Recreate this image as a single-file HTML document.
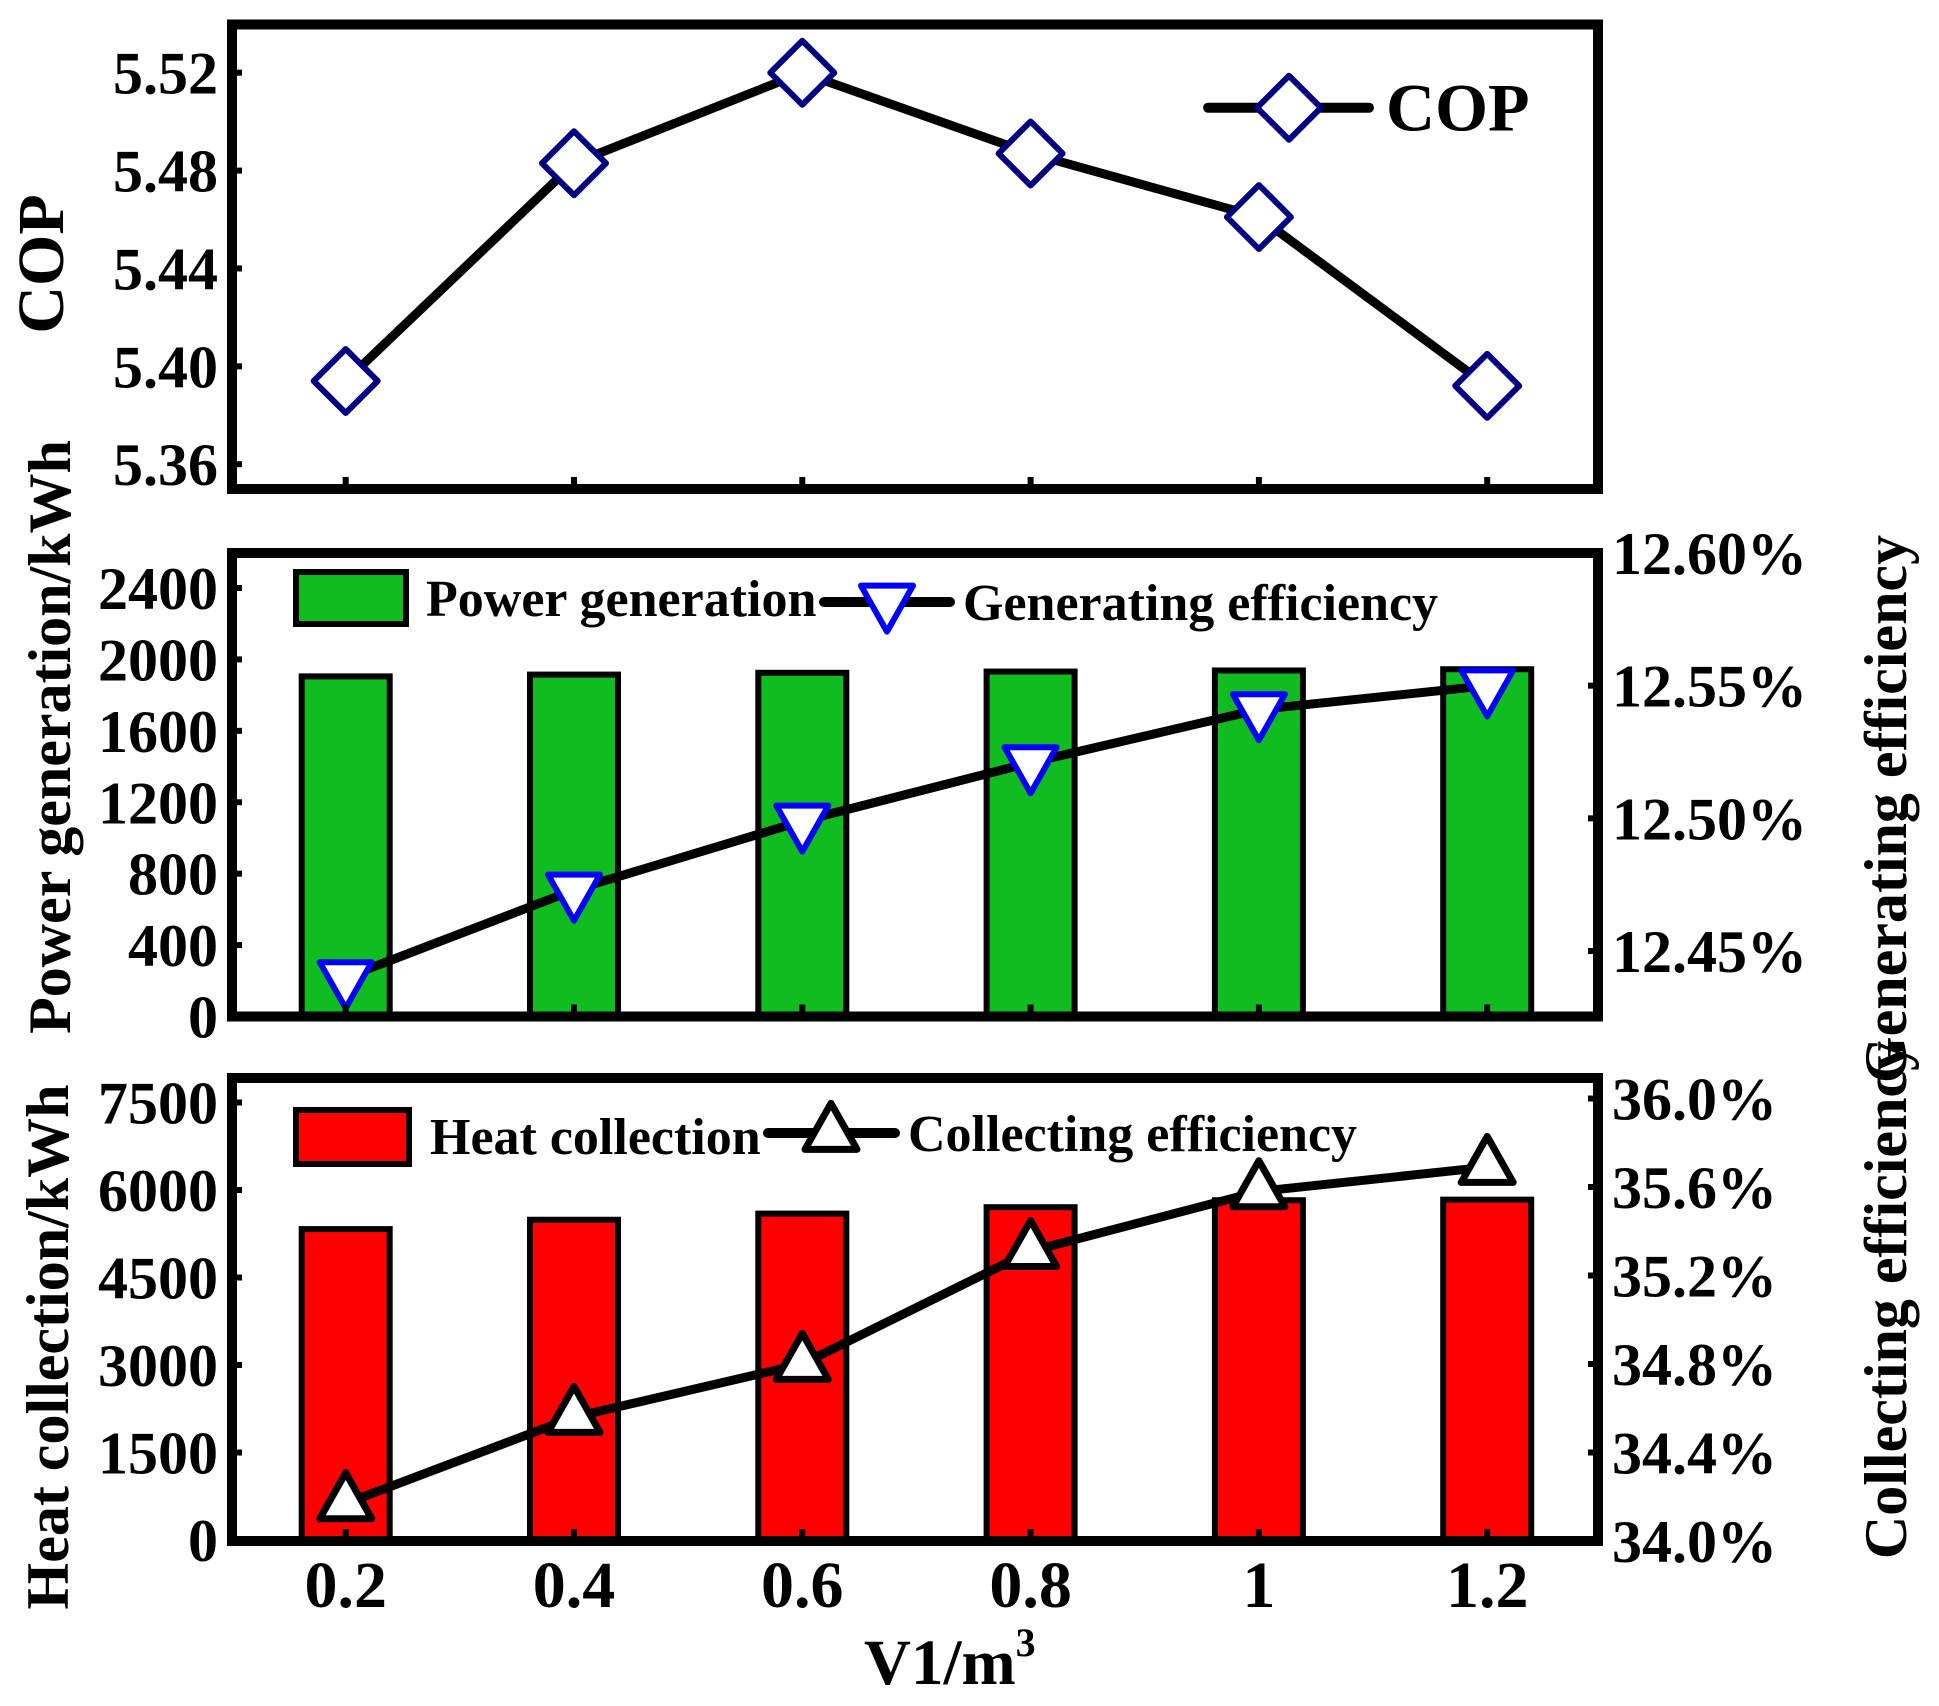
<!DOCTYPE html>
<html><head><meta charset="utf-8"><style>
html,body{margin:0;padding:0;background:#fff;}
svg{display:block;}
text{font-family:"Liberation Serif","Times New Roman",serif;font-weight:bold;fill:#000;}
</style></head>
<body>
<svg id="chart" width="1939" height="1706" viewBox="0 0 1939 1706" xmlns="http://www.w3.org/2000/svg"></svg>
<script>
const categories = ["0.2","0.4","0.6","0.8","1","1.2"];
const copValues = [5.394, 5.483, 5.520, 5.487, 5.461, 5.392];
const powerValues = [1905, 1915, 1925, 1932, 1938, 1945];
const genEffValues = [12.440, 12.473, 12.499, 12.521, 12.541, 12.550];
const heatValues = [5330, 5490, 5595, 5705, 5825, 5835];
const colEffValues = [34.17, 34.56, 34.80, 35.31, 35.58, 35.69];
const copTicks = [5.36, 5.40, 5.44, 5.48, 5.52];
const powerTicks = [0, 400, 800, 1200, 1600, 2000, 2400];
const genEffTicks = [12.45, 12.50, 12.55, 12.60];
const heatTicks = [0, 1500, 3000, 4500, 6000, 7500];
const colEffTicks = [34.0, 34.4, 34.8, 35.2, 35.6, 36.0];

const NS = "http://www.w3.org/2000/svg";
const svg = document.getElementById("chart");
function mk(tag, attrs, parent) {
  const e = document.createElementNS(NS, tag);
  for (const k in attrs) e.setAttribute(k, attrs[k]);
  (parent || svg).appendChild(e);
  return e;
}
const X0 = 232, X1 = 1598;
function xPos(i) { return 345.7 + i * 228.3; }
function lin(d0, d1, r0, r1) { return v => r0 + (v - d0) / (d1 - d0) * (r1 - r0); }

const P1 = {top: 24.5, bot: 489};
const P2 = {top: 553, bot: 1016.5};
const P3 = {top: 1078, bot: 1541};
const yCop = lin(5.36, 5.52, 464.2, 72.7);
const yPow = lin(0, 2400, 1016.5, 588);
const yGen = lin(12.45, 12.60, 951, 553);
const yHeat = lin(0, 7500, 1540, 1102.5);
const yCol = lin(34.0, 36.0, 1541, 1098.5);

function frame(p, name) {
  const r = mk("rect", {x: X0, y: p.top, width: X1 - X0, height: p.bot - p.top, fill: "none", stroke: "#000", "stroke-width": 10});
  
  
}
function xTicks(p) {
  categories.forEach((c, i) => {
    const t = mk("line", {x1: xPos(i), x2: xPos(i), y1: p.bot, y2: p.bot - 12, stroke: "#000", "stroke-width": 6});
    
    
  });
}
function leftTicks(ticks, yf, fmt, name) {
  ticks.forEach(v => {
    const y = yf(v);
    const t = mk("line", {x1: X0, x2: X0 + 10, y1: y, y2: y, stroke: "#000", "stroke-width": 6});
    
    
    const tx = mk("text", {x: 218, y: y + 21, "font-size": 60, "text-anchor": "end"});
    tx.textContent = fmt(v);
    
    
  });
}
function rightTicks(ticks, yf, fmt, name) {
  ticks.forEach(v => {
    const y = yf(v);
    const t = mk("line", {x1: X1, x2: X1 - 10, y1: y, y2: y, stroke: "#000", "stroke-width": 6});
    
    
    const tx = mk("text", {x: 1612, y: y + 21, "font-size": 60, "text-anchor": "start"});
    tx.textContent = fmt(v);
    
    
  });
}
function vTitle(txt, x, yc, size, name) {
  const t = mk("text", {x: 0, y: 0, "font-size": size, "text-anchor": "middle", transform: `translate(${x},${yc}) rotate(-90)`});
  t.textContent = txt;
  
  
}
function diamond(cx, cy, s, name) {
  const d = mk("polygon", {points: `${cx},${cy - s} ${cx + s},${cy} ${cx},${cy + s} ${cx - s},${cy}`, fill: "#fff", stroke: "#000080", "stroke-width": 6, "stroke-linejoin": "round"});
  
  
}
function downTri(cx, cy, name) {
  const h = 46, w = 52;
  const top = cy - h / 3, bot = cy + 2 * h / 3;
  const t = mk("polygon", {points: `${cx - w / 2},${top} ${cx + w / 2},${top} ${cx},${bot}`, fill: "#fff", stroke: "#0000ff", "stroke-width": 6, "stroke-linejoin": "round"});
  
  
}
function upTri(cx, cy, name) {
  const h = 46, w = 52;
  const top = cy - 2 * h / 3, bot = cy + h / 3;
  const t = mk("polygon", {points: `${cx - w / 2},${bot} ${cx + w / 2},${bot} ${cx},${top}`, fill: "#fff", stroke: "#000", "stroke-width": 7, "stroke-linejoin": "round"});
  
  
}
function polyline(vals, yf, name) {
  const pts = vals.map((v, i) => `${xPos(i)},${yf(v)}`).join(" ");
  const l = mk("polyline", {points: pts, fill: "none", stroke: "#000", "stroke-width": 9, "stroke-linejoin": "round"});
  
  
}
function bars(vals, yf, base, color, name) {
  vals.forEach((v, i) => {
    const y = yf(v);
    const b = mk("rect", {x: xPos(i) - 44, y: y, width: 88, height: base - y, fill: color, stroke: "#000", "stroke-width": 6});
    
    
  });
}
function label(txt, x, y, size, name, anchor) {
  const t = mk("text", {x: x, y: y, "font-size": size, "text-anchor": anchor || "start"});
  t.textContent = txt;
  
  
  return t;
}

// Panel 1: COP
polyline(copValues, yCop, 'cop-line');
copValues.forEach((v, i) => diamond(xPos(i), yCop(v), 32, 'cop-point-' + categories[i]));
xTicks(P1);
leftTicks(copTicks, yCop, v => v.toFixed(2), 'cop-axis');
frame(P1, 'cop-panel-frame');
vTitle("COP", 63, 264, 66, 'cop-axis-title');
const l1 = mk("line", {x1: 1208, x2: 1369, y1: 107.7, y2: 107.7, stroke: "#000", "stroke-width": 10, "stroke-linecap": "round"});


diamond(1289, 107.7, 32, 'cop-legend-marker');
label("COP", 1386, 130.7, 68, 'cop-legend-label');

// Panel 2: power
bars(powerValues, yPow, P2.bot, "#0fbd1f", 'power-bar');
polyline(genEffValues, yGen, 'generating-efficiency-line');
genEffValues.forEach((v, i) => downTri(xPos(i), yGen(v), 'generating-efficiency-point-' + categories[i]));
xTicks(P2);
leftTicks(powerTicks, yPow, v => String(v), 'power-axis');
rightTicks(genEffTicks, yGen, v => v.toFixed(2) + "%", 'generating-efficiency-axis');
frame(P2, 'power-panel-frame');
vTitle("Power generation/kWh", 70, 737, 60, 'power-axis-title');
vTitle("Generating efficiency", 1906, 809, 60, 'generating-efficiency-axis-title');
const g1 = mk("rect", {x: 296, y: 572, width: 110, height: 52, fill: "#0fbd1f", stroke: "#000", "stroke-width": 6});


label("Power generation", 426, 616, 52, 'power-legend-label');
const l2 = mk("line", {x1: 824, x2: 950, y1: 602, y2: 602, stroke: "#000", "stroke-width": 10, "stroke-linecap": "round"});


downTri(887, 601, 'generating-efficiency-legend-marker');
label("Generating efficiency", 963, 620, 52, 'generating-efficiency-legend-label');

// Panel 3: heat
bars(heatValues, yHeat, P3.bot, "#ff0000", 'heat-bar');
polyline(colEffValues, yCol, 'collecting-efficiency-line');
colEffValues.forEach((v, i) => upTri(xPos(i), yCol(v), 'collecting-efficiency-point-' + categories[i]));
xTicks(P3);
leftTicks(heatTicks, yHeat, v => String(v), 'heat-axis');
rightTicks(colEffTicks, yCol, v => v.toFixed(1) + "%", 'collecting-efficiency-axis');
frame(P3, 'heat-panel-frame');
vTitle("Heat collection/kWh", 68, 1347, 60, 'heat-axis-title');
vTitle("Collecting efficiency", 1906, 1300, 60, 'collecting-efficiency-axis-title');
const r1 = mk("rect", {x: 296, y: 1110, width: 113, height: 54, fill: "#ff0000", stroke: "#000", "stroke-width": 6});


label("Heat collection", 430, 1154, 52, 'heat-legend-label');
const l3 = mk("line", {x1: 768, x2: 895, y1: 1133, y2: 1133, stroke: "#000", "stroke-width": 10, "stroke-linecap": "round"});


upTri(831, 1134, 'collecting-efficiency-legend-marker');
label("Collecting efficiency", 908, 1151, 52, 'collecting-efficiency-legend-label');

// X axis labels
categories.forEach((c, i) => {
  const t = mk("text", {x: xPos(i), y: 1607, "font-size": 66, "text-anchor": "middle"});
  t.textContent = c;
  
  
});
const xt = mk("text", {x: 864, y: 1684, "font-size": 65});


xt.textContent = "V1/m";
const sup = mk("tspan", {dy: -28, "font-size": 40}, xt);
sup.textContent = "3";
</script>
</body></html>
